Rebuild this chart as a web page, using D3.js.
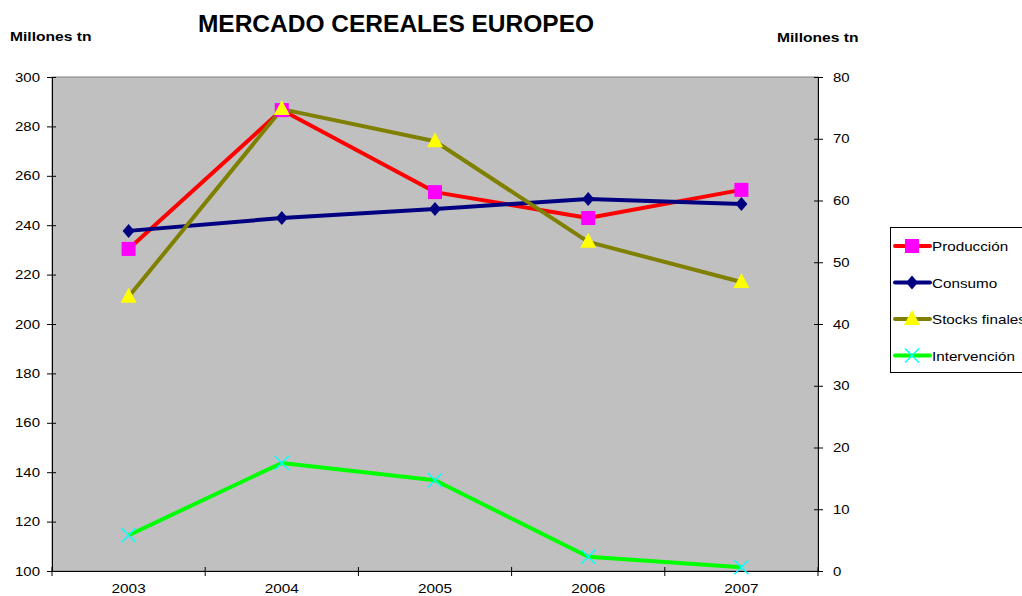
<!DOCTYPE html>
<html>
<head>
<meta charset="utf-8">
<script src="https://cdn.jsdelivr.net/npm/d3@7"></script>
<style>
  body { margin: 0; background: #fff; font-family: Arial, "Liberation Sans", sans-serif; }
  .axis text { font-size: 13px; fill: #000; font-family: Arial, "Liberation Sans", sans-serif; }
  .axis path, .axis line { stroke: #000; }
</style>
</head>
<body>
<div class="chart"></div>
<script>
// data
const years = ["2003", "2004", "2005", "2006", "2007"]
const produccion = [230.4, 286.6, 253.4, 242.9, 254.3]   // left axis
const consumo = [237.7, 242.9, 246.6, 250.6, 248.6]      // left axis
const stocks = [44.4, 74.8, 69.6, 53.3, 46.8]            // right axis
const intervencion = [5.8, 17.5, 14.7, 2.3, 0.6]         // right axis
const leftTicks = [100, 120, 140, 160, 180, 200, 220, 240, 260, 280, 300]
const rightTicks = [0, 10, 20, 30, 40, 50, 60, 70, 80]

const width = 1022, height = 596
const plot = { left: 52, right: 818, top: 77, bottom: 571 }

const svg = d3.select(".chart").append("svg")
  .attr("width", width)
  .attr("height", height)

// the original text looks stretched sideways a bit
function stretch(sel, k) {
  sel.each(function() {
    const w = this.getComputedTextLength()
    d3.select(this).attr("textLength", w * k).attr("lengthAdjust", "spacingAndGlyphs")
  })
}

const xScale = d3.scaleBand().domain(years).range([plot.left, plot.right])
const yLeft = d3.scaleLinear().domain([100, 300]).range([plot.bottom, plot.top])
const yRight = d3.scaleLinear().domain([0, 80]).range([plot.bottom, plot.top])

// plot background
svg.append("rect")
  .attr("x", plot.left).attr("y", plot.top)
  .attr("width", plot.right - plot.left).attr("height", plot.bottom - plot.top)
  .attr("fill", "#c0c0c0")
  .attr("stroke", "#808080")

// title + axis units
svg.append("text").attr("x", 396).attr("y", 32).attr("text-anchor", "middle")
  .attr("font-size", 24.5).attr("font-weight", "bold").text("MERCADO CEREALES EUROPEO")
svg.append("text").attr("x", 10).attr("y", 41)
  .attr("font-size", 13).attr("font-weight", "bold").text("Millones tn").call(stretch, 1.2)
svg.append("text").attr("x", 777).attr("y", 42)
  .attr("font-size", 13).attr("font-weight", "bold").text("Millones tn").call(stretch, 1.2)

// axes
const leftAxis = d3.axisLeft(yLeft).tickValues(leftTicks).tickSize(5).tickSizeOuter(0).tickPadding(7)
svg.append("g").attr("class", "axis")
  .attr("transform", `translate(${plot.left},0)`)
  .call(leftAxis)
  .call(g => g.selectAll(".tick line").attr("x2", -5).attr("x1", 4))
  .call(g => g.selectAll("text").call(stretch, 1.15))

const rightAxis = d3.axisRight(yRight).tickValues(rightTicks).tickSize(5).tickSizeOuter(0).tickPadding(10)
svg.append("g").attr("class", "axis")
  .attr("transform", `translate(${plot.right},0)`)
  .call(rightAxis)
  .call(g => g.selectAll(".tick line").attr("x1", -4).attr("x2", 5))
  .call(g => g.selectAll("text").call(stretch, 1.15))

const xAxis = d3.axisBottom(xScale).tickSize(0).tickSizeOuter(0).tickPadding(13)
svg.append("g").attr("class", "axis")
  .attr("transform", `translate(0,${plot.bottom})`)
  .call(xAxis)
  .call(g => g.selectAll("text").call(stretch, 1.18))

// boundary ticks between categories
const bounds = [0, 1, 2, 3, 4, 5].map(i => plot.left + i * xScale.step())
svg.append("g").selectAll("line").data(bounds).join("line")
  .attr("x1", d => d).attr("x2", d => d)
  .attr("y1", plot.bottom - 4).attr("y2", plot.bottom + 5)
  .attr("stroke", "#000")

const cx = d => xScale(d) + xScale.bandwidth() / 2

const series = [
  { name: "Producción", values: produccion, y: yLeft, color: "#ff0000", marker: "square", mcolor: "#ff00ff" },
  { name: "Consumo", values: consumo, y: yLeft, color: "#000080", marker: "diamond", mcolor: "#000080" },
  { name: "Stocks finales", values: stocks, y: yRight, color: "#808000", marker: "triangle", mcolor: "#ffff00" },
  { name: "Intervención", values: intervencion, y: yRight, color: "#00ff00", marker: "x", mcolor: "#00ffff" }
]

function drawMarker(g, type, color, x, y) {
  if (type === "square") {
    g.append("rect").attr("x", x - 7).attr("y", y - 7).attr("width", 14).attr("height", 14).attr("fill", color)
  } else if (type === "diamond") {
    g.append("path").attr("d", `M${x},${y - 7}L${x + 6},${y}L${x},${y + 7}L${x - 6},${y}Z`).attr("fill", color)
  } else if (type === "triangle") {
    g.append("path").attr("d", `M${x},${y - 9}L${x + 8},${y + 6}L${x - 8},${y + 6}Z`).attr("fill", color)
  } else {
    g.append("path").attr("d", `M${x - 7},${y - 7}L${x + 7},${y + 7}M${x - 7},${y + 7}L${x + 7},${y - 7}`)
      .attr("stroke", color).attr("stroke-width", 1.5).attr("fill", "none")
  }
}

series.forEach(s => {
  const line = d3.line().x((d, i) => cx(years[i])).y(d => s.y(d))
  svg.append("path").datum(s.values)
    .attr("d", line)
    .attr("fill", "none")
    .attr("stroke", s.color)
    .attr("stroke-width", 4)
    .attr("stroke-linejoin", "round")
})
series.forEach(s => {
  const g = svg.append("g")
  s.values.forEach((v, i) => drawMarker(g, s.marker, s.mcolor, cx(years[i]), s.y(v)))
})

// legend
const legend = svg.append("g")
legend.append("rect").attr("x", 890.5).attr("y", 227.5).attr("width", 140).attr("height", 145)
  .attr("fill", "#fff").attr("stroke", "#000")
series.forEach((s, i) => {
  const y = 246 + i * 36.5
  legend.append("line").attr("x1", 895).attr("x2", 930).attr("y1", y).attr("y2", y)
    .attr("stroke", s.color).attr("stroke-width", 4).attr("stroke-linecap", "round")
  drawMarker(legend, s.marker, s.mcolor, 912, y)
  legend.append("text").attr("x", 932).attr("y", y + 5).attr("font-size", 13).text(s.name).call(stretch, 1.17)
})
</script>
</body>
</html>
